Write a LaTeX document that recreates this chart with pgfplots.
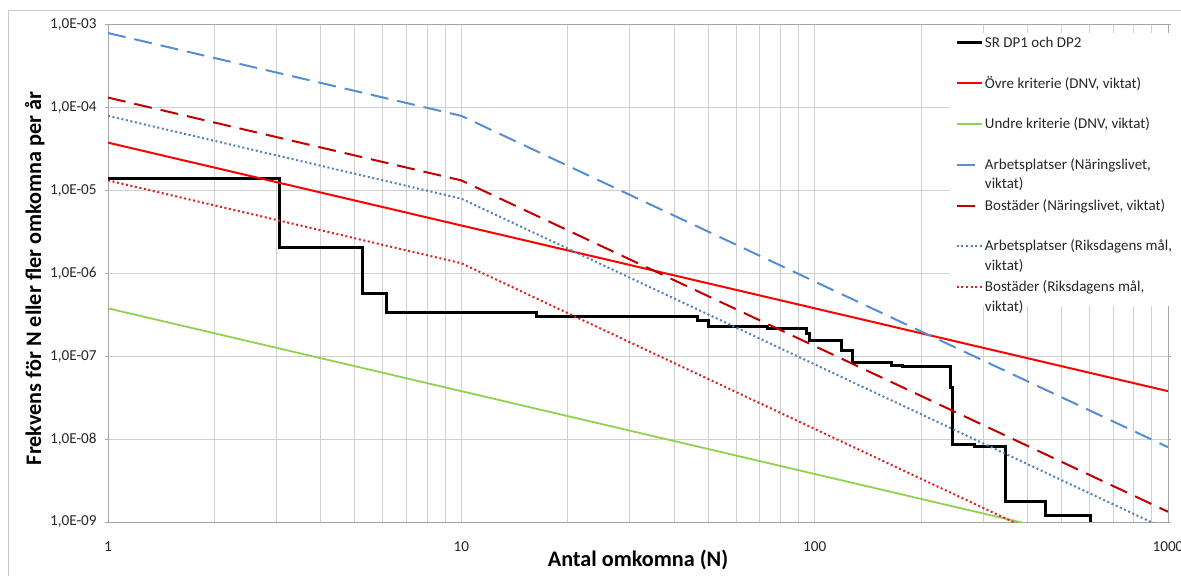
\documentclass[border=0pt]{standalone}
\usepackage{fontspec}
\setmainfont{Carlito}
\usepackage{pgfplots}
\pgfplotsset{compat=1.18}
\definecolor{gridc}{HTML}{D0D0D0}
\definecolor{axisc}{HTML}{A6A6A6}
\definecolor{framec}{HTML}{C8C8C8}
\definecolor{bluedash}{HTML}{558ED5}
\definecolor{bluedot}{HTML}{4F81BD}
\definecolor{darkred}{HTML}{C00000}
\definecolor{reddot}{HTML}{E02020}
\definecolor{redline}{HTML}{FF0000}
\definecolor{greenline}{HTML}{92D050}
\newcommand{\lent}[1]{\smash{\begin{tabular}[t]{@{}l@{}}#1\end{tabular}}}

\begin{document}
\begin{tikzpicture}
\useasboundingbox (0,0) rectangle (590.5pt,288pt);
\draw[framec, line width=0.5pt] (4pt,0pt) -- (4pt,282.5pt) -- (592pt,282.5pt);
\begin{loglogaxis}[
  at={(54pt,27pt)}, anchor=south west,
  scale only axis, width=530pt, height=248.5pt,
  xmin=1, xmax=1000, ymin=1e-9, ymax=1e-3,
  xtick={1,10,100,1000}, xticklabels={1,10,100,1000},
  ytick={1e-9,1e-8,1e-7,1e-6,1e-5,1e-4,1e-3},
  yticklabels={{1,0E-09},{1,0E-08},{1,0E-07},{1,0E-06},{1,0E-05},{1,0E-04},{1,0E-03}},
  xmajorgrids, xminorgrids, ymajorgrids,
  major grid style={gridc, line width=0.5pt},
  minor grid style={gridc, line width=0.5pt},
  axis line style={axisc, line width=0.5pt},
  tick align=outside, major tick length=1.5pt, minor tick length=0pt,
  xtick style={draw=none},
  ytick style={axisc, line width=0.5pt},
  tick label style={font=\fontsize{7.6}{8}\selectfont, text=black!85},
  yticklabel style={inner xsep=0pt, xshift=-4pt},
  xticklabel style={yshift=-4.6pt},
  xlabel={Antal omkomna (N)},
  ylabel={Frekvens för N eller fler omkomna per år},
  label style={font=\bfseries\fontsize{11.1}{12}\selectfont, text=black},
  xlabel style={at={(axis description cs:0.5,-0.0765)}, anchor=center},
  ylabel style={at={(axis description cs:-0.069,0.49)}, anchor=center},
  legend cell align=left,
  legend image code/.code={\draw[#1] (0pt,2.3pt) -- (12.5pt,2.3pt);},
  legend style={at={(0.7943,0.984)}, anchor=north west, draw=none, fill=white,
    inner xsep=2.5pt, inner ysep=0pt, row sep=6.35pt,
    nodes={minimum height=14pt, inner ysep=0pt, inner xsep=0.8pt,
      text height=0pt, text depth=0pt,
      font=\fontsize{7.5}{9.75}\selectfont, text=black!85}},
]
\addplot[black, line width=1.5pt] coordinates {
  (1,1.42e-5) (3.06,1.42e-5) (3.06,2.08e-6) (5.25,2.08e-6) (5.25,5.75e-7)
  (6.14,5.75e-7) (6.14,3.39e-7) (16.3,3.39e-7) (16.3,3.0e-7) (46.6,3.0e-7)
  (46.6,2.73e-7) (50,2.73e-7) (50,2.3e-7) (73.4,2.3e-7) (73.4,2.17e-7)
  (94.6,2.17e-7) (94.6,1.89e-7) (96.7,1.89e-7) (96.7,1.54e-7) (118.8,1.54e-7)
  (118.8,1.16e-7) (128,1.16e-7) (128,8.4e-8) (164.6,8.4e-8) (164.6,7.7e-8)
  (177,7.7e-8) (177,7.5e-8) (241.7,7.5e-8) (241.7,4.2e-8) (244.7,4.2e-8)
  (244.7,8.7e-9) (283,8.7e-9) (283,8.1e-9) (346,8.1e-9) (346,1.75e-9)
  (448.6,1.75e-9) (448.6,1.19e-9) (603,1.19e-9) (603,1e-9)
};
\addlegendentry{\lent{SR DP1 och DP2}}
\addplot[redline, line width=1pt] coordinates {(1,3.8e-5) (1000,3.8e-8)};
\addlegendentry{\lent{Övre kriterie (DNV, viktat)}}
\addplot[greenline, line width=0.9pt] coordinates {(1,3.8e-7) (1000,3.8e-10)};
\addlegendentry{\lent{Undre kriterie (DNV, viktat)}}
\addplot[bluedash, line width=1pt, dash pattern=on 9pt off 4.5pt] coordinates {(1,8e-4) (10,8e-5) (1000,8e-9)};
\addlegendentry{\lent{Arbetsplatser (Näringslivet,\\viktat)}}
\addplot[darkred, line width=1pt, dash pattern=on 9pt off 4.5pt] coordinates {(1,1.33e-4) (10,1.33e-5) (1000,1.33e-9)};
\addlegendentry{\lent{Bostäder (Näringslivet, viktat)}}
\addplot[bluedot, line width=1pt, dash pattern=on 1pt off 1.3pt] coordinates {(1,8e-5) (10,8e-6) (1000,8e-10)};
\addlegendentry{\lent{Arbetsplatser (Riksdagens mål,\\viktat)}}
\addplot[reddot, line width=1pt, dash pattern=on 1pt off 1.3pt] coordinates {(1,1.33e-5) (10,1.33e-6) (1000,1.33e-10)};
\addlegendentry{\lent{Bostäder (Riksdagens mål,\\viktat)}}
\end{loglogaxis}
\end{tikzpicture}
\end{document}
